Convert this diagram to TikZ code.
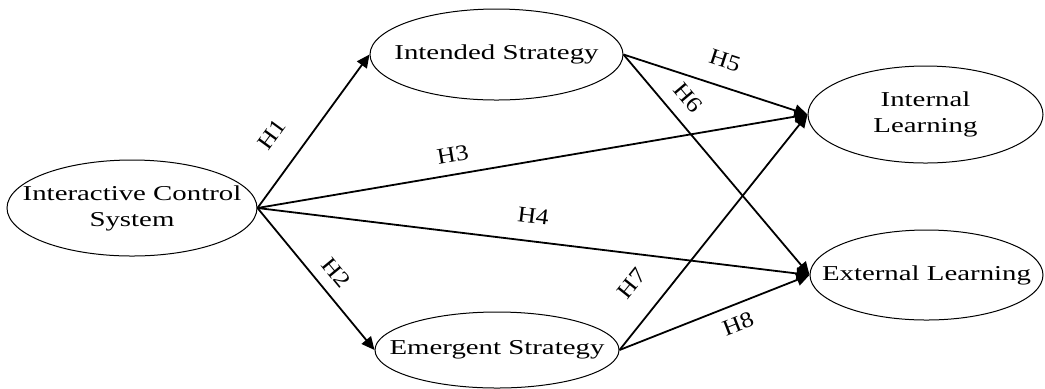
\documentclass[tikz,border=0pt]{standalone}
\usepackage{fontspec}
\setmainfont{Liberation Serif}[FakeStretch=1.36]
\newfontfamily\labfont{Liberation Serif}[FakeStretch=1.15]
\usetikzlibrary{shapes.geometric,arrows.meta}
\begin{document}
\begin{tikzpicture}[x=0.5pt,y=-0.5pt,
  ell/.style={draw, ellipse, line width=0.5pt, inner sep=0pt, font=\fontsize{10.6}{13}\selectfont},
  arr/.style={line width=0.9pt, -{Triangle[length=6.5pt,width=6pt]}},
  lab/.style={sloped, inner sep=0pt, font=\labfont\fontsize{11.2}{13}\selectfont}]
\useasboundingbox (0,0) rectangle (1045,388);
\node[ell, minimum width=125pt, minimum height=48pt] (ics) at (132,208)
  {\makebox[0pt]{\begin{tabular}{@{}c@{}}Interactive Control\\System\end{tabular}}};
\node[ell, minimum width=126.5pt, minimum height=45.5pt] (int) at (496.5,54.5)
  {\makebox[0pt]{Intended Strategy}};
\node[ell, minimum width=122pt, minimum height=38pt] (emg) at (497,350)
  {\makebox[0pt]{Emergent Strategy}};
\node[ell, minimum width=117.5pt, minimum height=48.5pt] (inl) at (925.5,114.5)
  {\makebox[0pt]{\begin{tabular}{@{}c@{}}Internal\\Learning\end{tabular}}};
\node[ell, minimum width=116.5pt, minimum height=45pt] (exl) at (926.5,275)
  {\makebox[0pt]{External Learning}};
\draw[arr] (ics.east) -- node[lab, pos=.358, above=12pt] {H1} (int.west);
\draw[arr] (ics.east) -- node[lab, pos=.543, above=5.8pt] {H2} (emg.west);
\draw[arr] (ics.east) -- node[lab, pos=.361, above=5.7pt] {H3} (inl.west);
\draw[arr] (ics.east) -- node[lab, pos=.494, above=8.7pt] {H4} (exl.west);
\draw[arr] (int.east) -- node[lab, pos=.508, above=8.7pt] {H5} (inl.west);
\draw[arr] (int.east) -- node[lab, pos=.259, above=6.4pt] {H6} (exl.west);
\draw[arr] (emg.east) -- node[lab, pos=.198, above=11.9pt] {H7} (inl.west);
\draw[arr] (emg.east) -- node[lab, pos=.587, below=5.2pt] {H8} (exl.west);
\end{tikzpicture}
\end{document}
